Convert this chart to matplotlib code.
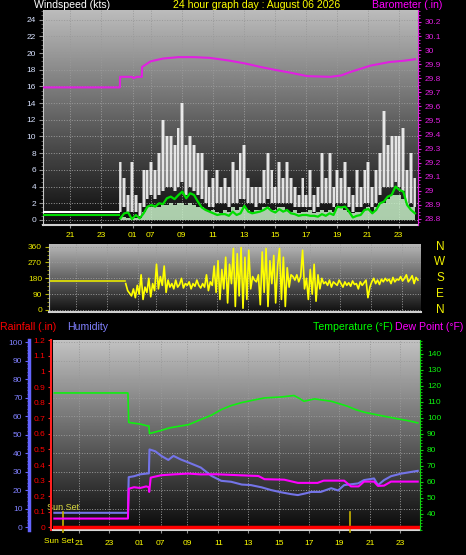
import matplotlib
matplotlib.use('Agg')
import matplotlib.pyplot as plt
import numpy as np
from matplotlib.ticker import MultipleLocator, FuncFormatter

plt.rcParams['font.family'] = ['Liberation Sans Narrow', 'Liberation Sans', 'DejaVu Sans']

W, H = 466, 555

# ---------------- data ----------------
tick_labels = ['21', '23', '01', '07', '09', '11', '13', '15', '17', '19', '21', '23']
top_tick_pos = [0, 2, 4.05, 5.2, 7.2, 9.2, 11.2, 13.2, 15.2, 17.2, 19.2, 21.2]
bot_tick_pos = [0, 1.97, 3.93, 5.35, 7.11, 9.16, 11.13, 13.16, 15.16, 17.13, 19.16, 21.13]
x_range = (-1.74, 22.45)

# wind (kts): flat stretch first, then readings every quarter hour
flat_hours = [-1.74, 3.15]
flat_gust = [0.9, 0.9]
flat_avg = [0.65, 0.65]
wind_hours = np.arange(3.25, 22.26, 0.25)
gust = [7, 5, 3, 7, 3, 2, 6, 6, 7, 6, 8, 12, 10, 10, 9, 11, 14, 9, 10, 9,
        8, 8, 6, 4, 5, 6, 4, 5, 4, 7, 6, 8, 9, 5, 4, 4, 4, 6, 8, 6,
        4, 7, 5, 7, 5, 4, 3, 5, 3, 6, 3, 4, 8, 5, 8, 4, 6, 5, 7, 4,
        3, 6, 4, 6, 7, 4, 6, 8, 13, 9, 10, 10, 10, 11, 6, 8, 5]
speed_low = [1, 1.5, 1, 1, 1, 0.5, 1.5, 2.5, 3, 2.5, 3, 3.5, 4, 4, 3.5, 4, 4.5, 3, 4, 3.5,
             3, 2.5, 2, 1.5, 1.5, 2, 2, 2, 1.5, 2, 2, 2.5, 2.5, 2, 2, 1.5, 2, 2, 2.5, 2,
             2, 2, 2, 2, 2, 1.5, 1.5, 1.5, 1.5, 1.5, 1, 1.5, 2, 2, 2, 1.5, 2, 2, 2, 1.5,
             1, 1.5, 1.5, 2, 2, 1.5, 2, 3, 4, 4, 4, 4.5, 4, 3.5, 2, 2, 1.5]
lull = [0.3, 0.3, 0.2, 0.3, 0.2, 0.2, 1.0, 1.5, 1.5, 1.8, 1.5, 1.8, 1.8, 2.0, 1.8, 2.0, 2.0, 1.8, 2.0, 1.8,
        1.5, 1.5, 1.2, 1.0, 1.2, 1.0, 0.8, 1.2, 1.0, 1.5, 1.2, 1.5, 1.5, 1.2, 1.0, 1.2, 1.2, 1.5, 1.5, 1.2,
        1.2, 1.5, 1.5, 1.2, 1.0, 1.2, 0.8, 1.0, 1.0, 1.2, 0.8, 1.0, 1.2, 1.0, 1.2, 1.0, 1.5, 1.5, 1.2, 1.0,
        0.8, 1.0, 1.0, 1.2, 1.5, 1.0, 1.5, 2.0, 2.0, 2.5, 3.0, 3.0, 3.0, 2.5, 2.0, 1.5, 1.5]
avg_wind = [0.2, 0.8, 0.9, 0.1, 0.6, 0.2, 0.8, 1.6, 1.8, 1.6, 2.0, 1.9, 2.6, 2.8, 2.5, 3.0, 3.4, 2.6, 3.2, 3.0,
            2.2, 1.5, 1.2, 1.0, 0.8, 0.6, 0.7, 0.7, 0.5, 1.0, 0.6, 0.8, 1.7, 1.0, 0.8, 0.9, 1.0, 1.2, 1.5, 1.1,
            0.9, 1.3, 1.0, 1.2, 0.8, 0.7, 0.5, 0.6, 0.6, 0.5, 0.5, 0.4, 0.7, 0.5, 0.8, 0.6, 1.6, 1.5, 1.6, 1.0,
            0.3, 0.5, 0.6, 1.2, 1.3, 0.8, 1.2, 2.0, 2.2, 2.8, 3.0, 4.0, 3.6, 3.4, 1.8, 1.2, 0.8]

# barometer (.in)
baro_hours = [-1.74, 3.22, 3.23, 4.0, 4.1, 4.3, 4.64, 4.65, 5.2, 6.0, 7.0, 8.0, 9.0, 10.3,
              11.3, 12.3, 13.2, 14.2, 15.3, 16.8, 17.5, 18.1, 19.4, 20.6, 21.6, 22.26]
baro = [29.735, 29.735, 29.81, 29.81, 29.80, 29.81, 29.81, 29.88, 29.92, 29.94, 29.95, 29.95, 29.945, 29.925,
        29.905, 29.88, 29.86, 29.84, 29.815, 29.81, 29.82, 29.845, 29.89, 29.915, 29.925, 29.935]

# wind direction (deg)
dir_flat_hours = [-1.74, 3.2]
dir_flat = [167, 167]
dir_hours = np.arange(3.25, 22.26, 0.125)
direction = [150, 110, 95, 80, 120, 70, 140, 90,
             200, 60, 130, 100, 180, 75, 150, 110,
             260, 120, 190, 140, 250, 100, 170, 130,
             150, 120, 170, 130, 145, 180, 125, 150,
             140, 160, 120, 150, 135, 170, 140, 125,
             150, 130, 200, 110, 160, 140, 250, 100,
             280, 60, 230, 120, 300, 40, 260, 150,
             350, 20, 320, 80, 355, 10, 300, 60,
             340, 120, 190, 170, 160, 200, 30, 330,
             100, 350, 20, 280, 150, 310, 40, 250,
             350, 60, 300, 20, 240, 130, 200, 190,
             170, 200, 160, 190, 340, 120, 180, 60,
             230, 90, 260, 50, 200, 120, 180, 150,
             160, 140, 170, 130, 160, 150, 140, 170,
             150, 130, 160, 140, 155, 135, 165, 145,
             150, 120, 160, 140, 155, 170, 70, 130,
             160, 180, 150, 170, 145, 175, 160, 180,
             165, 175, 150, 185, 160, 175, 170, 190,
             165, 180, 200, 160, 175, 195, 150, 185,
             170]
compass = ['N', 'W', 'S', 'E', 'N']
compass_deg = [360, 270, 180, 90, 0]

# temperature / dew point (F), humidity (%), rainfall (.in)
temp_hours = [-1.65, 3.2, 3.25, 3.6, 4.0, 4.4, 4.58, 4.62, 5.0, 5.4, 5.9, 6.5, 7.2, 8.0, 8.7, 9.35, 10.0,
              10.7, 11.5, 12.2, 13.3, 14.15, 14.5, 14.8, 15.5, 16.0, 16.6, 17.2, 17.7, 18.2, 18.8, 19.9,
              21.0, 21.7, 22.3]
temp = [115.4, 115.4, 97.0, 96.5, 96.0, 95.0, 94.8, 90.0, 91.0, 92.0, 93.5, 94.5, 95.6, 98.8, 101.5, 105, 107.5,
        109.4, 111, 112.3, 112.9, 113.8, 112, 110.2, 111.7, 111, 110.2, 108.5, 107, 105, 103.3, 101.2,
        99.2, 98, 96.7]
dew_hours = [-1.65, 3.2, 3.25, 3.6, 4.0, 4.4, 4.58, 4.6, 4.7, 5.4, 6.2, 7.18, 8.0, 9.0, 10.0, 11.0, 11.8,
             12.2, 13.5, 14.4, 15.7, 16.1, 17.45, 17.9, 18.4, 18.76, 19.42, 19.68, 20.08, 20.54, 22.3]
dew = [36.9, 36.9, 55.5, 56.5, 56, 57, 56.5, 53.6, 62.5, 64, 64.5, 65, 64.5, 64.6, 64.2, 63.8, 63.5,
       61.5, 61.2, 59.2, 59.2, 60.6, 60.6, 57, 57, 60, 60, 57.3, 57.5, 60, 60]
hum_hours = [-1.65, 3.2, 3.25, 3.6, 4.0, 4.5, 4.58, 4.62, 5.0, 5.4, 5.86, 6.2, 6.7, 7.2, 8.0, 8.7, 9.35,
             10.0, 10.7, 11.3, 12.0, 12.64, 13.3, 13.96, 14.4, 14.9, 15.27, 15.9, 16.6, 17.05, 17.45,
             18.37, 18.76, 19.42, 19.68, 20.08, 20.54, 21.2, 22.3]
humidity = [7.7, 7.7, 27, 27.5, 28.5, 29, 29, 42, 41, 38.5, 36.3, 38.5, 36.5, 34.9, 32.2, 27.7, 25,
            24.5, 23, 22.7, 21.5, 20, 18.8, 17.8, 17.3, 18.2, 19, 19, 21, 19.8, 22.7,
            23.6, 25.4, 26.3, 22.7, 25.4, 27.5, 28.9, 30.4]
rain_hours = [-1.74, 22.45]
rain = [0, 0]
sun_hours = [-1.08, 17.84]

# ---------------- drawing ----------------
fig = plt.figure(figsize=(W / 100, H / 100), dpi=100, facecolor='black')


def box(l, t, r, b):
    return [l / W, 1 - b / H, (r - l) / W, (b - t) / H]


def shade(ax, top, bottom):
    grad = np.linspace(top, bottom, 256).reshape(-1, 1)
    ax.imshow(grad, cmap='gray', vmin=0, vmax=1, aspect='auto', extent=(0, 1, 0, 1),
              transform=ax.transAxes, zorder=0, interpolation='bilinear')


def trim(v, pos):
    return ('%.1f' % v).rstrip('0').rstrip('.')


def dress(ax):
    ax.set_facecolor('black')
    ax.grid(True, color='#9a9a9a', ls=':', lw=0.7)
    ax.spines['top'].set_visible(False)
    ax.spines['right'].set_visible(False)


# --- wind speed / barometer ---
ax1 = fig.add_axes(box(43, 10, 418, 225))
dress(ax1)
shade(ax1, 0.74, 0.04)
ax1.fill_between(wind_hours, speed_low, gust, step='mid', color='#d4d4d4', alpha=0.55, lw=0, zorder=2)
ax1.vlines(wind_hours, speed_low, gust, color='white', lw=1.1, zorder=2)
ax1.fill_between(wind_hours, 0, lull, step='mid', color='#c8f0c8', alpha=0.85, lw=0, zorder=3)
ax1.plot(flat_hours, flat_gust, color='white', lw=1.5, zorder=3)
ax1.plot(flat_hours, flat_avg, color='#00dd00', lw=1.5, zorder=4)
ax1.plot(wind_hours, avg_wind, color='#00dd00', lw=1.6, zorder=4)
ax1.set_xlim(*x_range)
ax1.set_ylim(-0.6, 25.15)
ax1.yaxis.set_major_locator(MultipleLocator(2))
ax1.yaxis.set_minor_locator(MultipleLocator(0.5))
ax1.set_xticks(top_tick_pos, tick_labels)
ax1.tick_params(axis='y', colors='#909090', labelcolor='#d8e2ff', labelsize=6, length=3, pad=2)
ax1.tick_params(axis='y', which='minor', colors='#707070', length=1.5)
ax1.tick_params(axis='x', colors='#909090', labelcolor='#ffff00', labelsize=6, length=2, pad=3)
ax1.spines['left'].set_color('#c8c8c8')
ax1.spines['bottom'].set_color('#d0d0d0')
ax1.spines['bottom'].set_linewidth(1.5)

ax1b = ax1.twinx()
ax1b.plot(baro_hours, baro, color='#e020e0', lw=1.5)
ax1b.set_ylim(28.757, 30.285)
ax1b.yaxis.set_major_locator(MultipleLocator(0.1))
ax1b.yaxis.set_minor_locator(MultipleLocator(0.025))
ax1b.yaxis.set_major_formatter(FuncFormatter(trim))
ax1b.tick_params(axis='y', colors='#e020e0', labelsize=6, length=2, pad=3)
ax1b.tick_params(axis='y', which='minor', colors='#e020e0', length=1.5)
for s in ('top', 'left', 'bottom'):
    ax1b.spines[s].set_visible(False)
ax1b.spines['right'].set_color('#e020e0')

# --- wind direction ---
ax2 = fig.add_axes(box(49, 244, 421, 312))
dress(ax2)
shade(ax2, 0.72, 0.06)
ax2.plot(dir_flat_hours, dir_flat, color='#e8e800', lw=1.2)
ax2.plot(dir_hours, direction, color='#ffff00', lw=1.2)
ax2.set_xlim(*x_range)
ax2.set_ylim(-11.4, 375)
ax2.set_yticks([0, 90, 180, 270, 360])
ax2.yaxis.set_minor_locator(MultipleLocator(22.5))
ax2.set_xticks(top_tick_pos, [])
ax2.tick_params(axis='y', colors='#b0b000', labelcolor='#e8e800', labelsize=6, length=3, pad=2)
ax2.tick_params(axis='y', which='minor', colors='#b0b000', length=1.5)
ax2.tick_params(axis='x', length=0)
ax2.spines['left'].set_color('#c0c0c0')
ax2.spines['bottom'].set_color('#d0d0d0')
ax2.spines['bottom'].set_linewidth(1.5)
for letter, deg in zip(compass, compass_deg):
    ax2.text(1.051, deg, letter, transform=ax2.get_yaxis_transform(), color='#f0f000',
             fontsize=8.5, ha='center', va='center', clip_on=False)

# --- temperature / humidity / rain ---
ax3 = fig.add_axes(box(53, 340, 420, 530))
dress(ax3)
shade(ax3, 0.76, 0.04)
ax3.plot(hum_hours, humidity, color='#7474e8', lw=1.5, zorder=3)
ax3.set_xlim(*x_range)
ax3.set_ylim(-1.6, 101.2)
ax3.yaxis.set_major_locator(MultipleLocator(10))
ax3.yaxis.set_minor_locator(MultipleLocator(2))
ax3.spines['left'].set_position(('outward', 17))
ax3.spines['left'].set_color('#6464ff')
ax3.spines['left'].set_linewidth(2.5)
ax3.spines['bottom'].set_color('#d8d8d8')
ax3.spines['bottom'].set_linewidth(1.5)
ax3.tick_params(axis='y', colors='#6464ff', labelcolor='#8080ff', labelsize=6, length=3, pad=2)
ax3.tick_params(axis='y', which='minor', colors='#6464ff', length=1.5)
ax3.set_xticks(bot_tick_pos, tick_labels)
ax3.tick_params(axis='x', colors='#909090', labelcolor='#ffff00', labelsize=6, length=2, pad=5)
for h in sun_hours:
    ax3.axvline(h, ymin=-0.01, ymax=0.095, color='#c8b400', lw=1.2, clip_on=False, zorder=5)
ax3.text(sun_hours[0], 0.121, 'Sun Set', transform=ax3.get_xaxis_transform(), color='#dcdc40',
         fontsize=6.5, ha='center', va='center', zorder=6)
ax3.text(-0.4, -0.063, 'Sun Set', transform=ax3.get_xaxis_transform(), color='#ffff00',
         fontsize=6, ha='right', va='center', clip_on=False)

ax3r = ax3.twinx()
ax3r.plot(rain_hours, rain, color='#ff0000', lw=2.5, zorder=4)
ax3r.set_ylim(-0.017, 1.202)
ax3r.yaxis.tick_left()
ax3r.yaxis.set_major_locator(MultipleLocator(0.1))
ax3r.yaxis.set_minor_locator(MultipleLocator(0.025))
ax3r.yaxis.set_major_formatter(FuncFormatter(trim))
for s in ('top', 'right', 'bottom'):
    ax3r.spines[s].set_visible(False)
ax3r.spines['left'].set_visible(True)
ax3r.spines['left'].set_position(('outward', 1.5))
ax3r.spines['left'].set_color('#ff2020')
ax3r.spines['left'].set_linewidth(1.5)
ax3r.spines['left'].set_linestyle((0, (2, 1)))
ax3r.tick_params(axis='y', colors='#ff2020', labelcolor='#ff0000', labelsize=6, length=2, pad=2)
ax3r.tick_params(axis='y', which='minor', colors='#ff2020', length=1)

ax3t = ax3.twinx()
ax3t.plot(temp_hours, temp, color='#10f010', lw=1.2)
ax3t.plot(dew_hours, dew, color='#ff00ff', lw=1.5)
ax3t.set_ylim(29.75, 148.5)
ax3t.set_yticks(range(40, 141, 10))
ax3t.yaxis.set_minor_locator(MultipleLocator(2))
for s in ('top', 'left', 'bottom'):
    ax3t.spines[s].set_visible(False)
ax3t.spines['right'].set_color('#10d010')
ax3t.tick_params(axis='y', colors='#10d010', labelcolor='#10f010', labelsize=6, length=2, pad=3)
ax3t.tick_params(axis='y', which='minor', colors='#10d010', length=1.5)

# --- header texts ---
def label(x, y, s, color, ha='left', size=7.6):
    fig.text(x / W, 1 - y / H, s, color=color, ha=ha, va='center', fontsize=size)


label(34, 5.5, 'Windspeed (kts)', 'white')
label(257, 5.5, '24 hour graph day : August 06 2026', '#ffff00', ha='center')
label(372, 5.5, 'Barometer (.in)', '#ff00ff')
label(0, 327, 'Rainfall (.in)', '#ff0000')
label(67, 327, 'Humidity', '#8080ff')
label(313, 327, 'Temperature (\u00b0F)', '#00ff00')
label(463, 327, 'Dew Point (\u00b0F)', '#ff00ff', ha='right')

fig.savefig('out.png', dpi=100, facecolor='black')
